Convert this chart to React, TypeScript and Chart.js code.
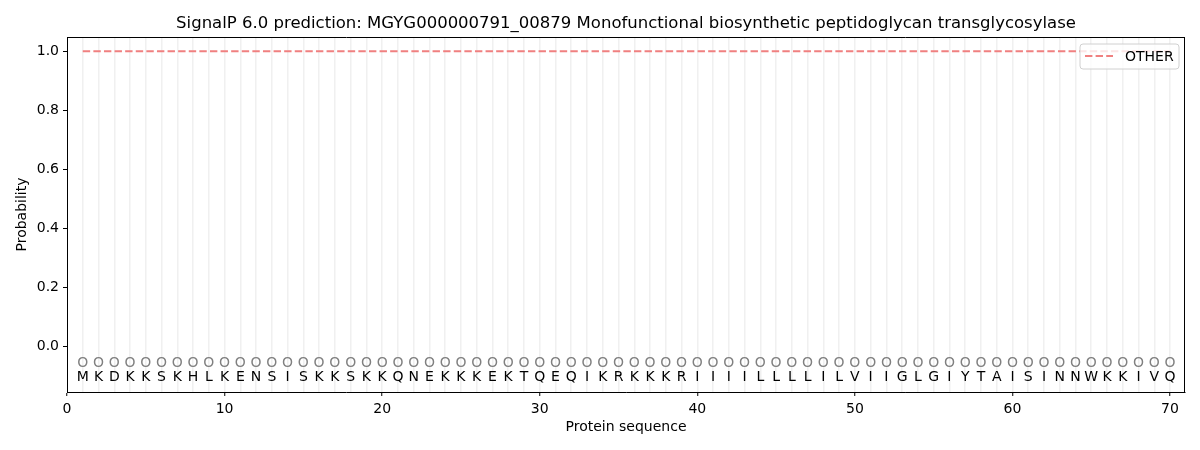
import React, { useEffect, useRef } from "react";
import { Chart, registerables } from "chart.js";

Chart.register(...registerables);

const TITLE =
  "SignalP 6.0 prediction: MGYG000000791_00879 Monofunctional biosynthetic peptidoglycan transglycosylase";

const residues: string[] = [
  "M", "K", "D", "K", "K", "S", "K", "H", "L", "K",
  "E", "N", "S", "I", "S", "K", "K", "S", "K", "K",
  "Q", "N", "E", "K", "K", "K", "E", "K", "T", "Q",
  "E", "Q", "I", "K", "R", "K", "K", "K", "R", "I",
  "I", "I", "I", "L", "L", "L", "L", "I", "L", "V",
  "I", "I", "G", "L", "G", "I", "Y", "T", "A", "I",
  "S", "I", "N", "N", "W", "K", "K", "I", "V", "Q",
];

const otherProb: number[] = [
  1.0, 1.0, 1.0, 1.0, 1.0, 1.0, 1.0, 1.0, 1.0, 1.0,
  1.0, 1.0, 1.0, 1.0, 1.0, 1.0, 1.0, 1.0, 1.0, 1.0,
  1.0, 1.0, 1.0, 1.0, 1.0, 1.0, 1.0, 1.0, 1.0, 1.0,
  1.0, 1.0, 1.0, 1.0, 1.0, 1.0, 1.0, 1.0, 1.0, 1.0,
  1.0, 1.0, 1.0, 1.0, 1.0, 1.0, 1.0, 1.0, 1.0, 1.0,
  1.0, 1.0, 1.0, 1.0, 1.0, 1.0, 1.0, 1.0, 1.0, 1.0,
  1.0, 1.0, 1.0, 1.0, 1.0, 1.0, 1.0, 1.0, 1.0, 1.0,
];

const xTickLabels: number[] = [0, 10, 20, 30, 40, 50, 60, 70];
const yTickLabels: number[] = [0, 0.2, 0.4, 0.6, 0.8, 1.0];

const X_MIN = 0;
const X_MAX = 70.95;
const Y_MIN = -0.153;
const Y_MAX = 1.048;
const MARK_Y = -0.05;
const LETTER_Y = -0.1;

const FONT = '"DejaVu Sans", sans-serif';
const LINE_COLOR = "#f08080";
const CAP_HALF = 5.1; // half cap height of 14px DejaVu Sans

const overlayPlugin = {
  id: "overlay",
  afterDatasetsDraw(chart: any) {
    const { ctx, scales } = chart;
    const x = scales.x;
    const y = scales.y;
    ctx.save();
    ctx.font = `14px ${FONT}`;
    ctx.textAlign = "center";
    ctx.textBaseline = "alphabetic";
    residues.forEach((r, i) => {
      const px = x.getPixelForValue(i + 1);
      ctx.fillStyle = "#808080";
      ctx.fillText("O", px, y.getPixelForValue(MARK_Y) + CAP_HALF);
      ctx.fillStyle = "#000000";
      ctx.fillText(r, px, y.getPixelForValue(LETTER_Y) + CAP_HALF);
    });
    ctx.restore();
  },
  afterDraw(chart: any) {
    const { ctx, chartArea: ca } = chart;
    ctx.save();
    // frame
    ctx.strokeStyle = "#000";
    ctx.lineWidth = 1;
    ctx.beginPath();
    ctx.moveTo(ca.left, ca.top + 0.5);
    ctx.lineTo(ca.right, ca.top + 0.5);
    ctx.moveTo(ca.right - 0.5, ca.top);
    ctx.lineTo(ca.right - 0.5, ca.bottom);
    ctx.stroke();

    // title
    ctx.fillStyle = "#000";
    ctx.font = `16.5px ${FONT}`;
    ctx.textAlign = "center";
    ctx.textBaseline = "alphabetic";
    ctx.fillText(TITLE, (ca.left + ca.right) / 2, ca.top - 9);

    // legend
    const bw = 99;
    const bh = 25;
    const bx = ca.right - 6 - bw;
    const by = ca.top + 7;
    const r = 3;
    ctx.beginPath();
    ctx.moveTo(bx + r, by);
    ctx.lineTo(bx + bw - r, by);
    ctx.quadraticCurveTo(bx + bw, by, bx + bw, by + r);
    ctx.lineTo(bx + bw, by + bh - r);
    ctx.quadraticCurveTo(bx + bw, by + bh, bx + bw - r, by + bh);
    ctx.lineTo(bx + r, by + bh);
    ctx.quadraticCurveTo(bx, by + bh, bx, by + bh - r);
    ctx.lineTo(bx, by + r);
    ctx.quadraticCurveTo(bx, by, bx + r, by);
    ctx.closePath();
    ctx.fillStyle = "rgba(255,255,255,0.8)";
    ctx.fill();
    ctx.strokeStyle = "#d0d0d0";
    ctx.lineWidth = 1;
    ctx.stroke();

    ctx.strokeStyle = LINE_COLOR;
    ctx.lineWidth = 2;
    ctx.setLineDash([7.4, 3.2]);
    ctx.beginPath();
    ctx.moveTo(bx + 5, by + 12);
    ctx.lineTo(bx + 33, by + 12);
    ctx.stroke();
    ctx.setLineDash([]);

    ctx.fillStyle = "#000";
    ctx.font = `14px ${FONT}`;
    ctx.textAlign = "left";
    ctx.textBaseline = "alphabetic";
    ctx.fillText("OTHER", bx + 45, by + 12 + CAP_HALF);
    ctx.restore();
  },
};

export default function App() {
  const canvasRef = useRef<HTMLCanvasElement | null>(null);

  useEffect(() => {
    if (!canvasRef.current) return;
    const chart = new Chart(canvasRef.current, {
      type: "line",
      data: {
        datasets: [
          {
            label: "OTHER",
            data: otherProb.map((v, i) => ({ x: i + 1, y: v })),
            borderColor: LINE_COLOR,
            borderWidth: 2,
            borderDash: [7.4, 3.2],
            pointRadius: 0,
            fill: false,
            tension: 0,
          },
        ],
      },
      options: {
        animation: false,
        responsive: false,
        devicePixelRatio: 1,
        layout: { padding: { left: 0, right: 15, top: 37, bottom: 0 } },
        plugins: {
          legend: { display: false },
          title: { display: false },
          tooltip: { enabled: false },
        },
        scales: {
          x: {
            type: "linear",
            min: X_MIN,
            max: X_MAX,
            afterBuildTicks: (s: any) => {
              s.ticks = [{ value: 0 }, ...residues.map((_, i) => ({ value: i + 1 }))];
            },
            afterFit: (s: any) => {
              s.height = 58;
            },
            ticks: {
              autoSkip: false,
              maxRotation: 0,
              minRotation: 0,
              padding: 4.5,
              color: "#000",
              font: { family: FONT, size: 14 },
              callback: (v: any) => (xTickLabels.includes(Number(v)) ? String(v) : ""),
            },
            grid: {
              drawOnChartArea: true,
              color: (c: any) => (c.tick && c.tick.value > 0 ? "#f0f0f0" : "rgba(0,0,0,0)"),
              lineWidth: 1.5,
              tickLength: 4,
              tickColor: (c: any) =>
                c.tick && xTickLabels.includes(c.tick.value) ? "#000" : "rgba(0,0,0,0)",
              tickWidth: 1,
            },
            border: { display: true, color: "#000", width: 1 },
            title: {
              display: true,
              text: "Protein sequence",
              color: "#000",
              font: { family: FONT, size: 14 },
              padding: { top: 0, bottom: 13.8 },
            },
          },
          y: {
            type: "linear",
            min: Y_MIN,
            max: Y_MAX,
            afterBuildTicks: (s: any) => {
              s.ticks = yTickLabels.map((v) => ({ value: v }));
            },
            afterFit: (s: any) => {
              s.width = 67;
            },
            ticks: {
              padding: 4,
              color: "#000",
              font: { family: FONT, size: 14 },
              callback: (v: any) => Number(v).toFixed(1),
            },
            grid: {
              drawOnChartArea: false,
              tickLength: 4,
              tickColor: "#000",
              tickWidth: 1,
            },
            border: { display: true, color: "#000", width: 1 },
            title: {
              display: true,
              text: "Probability",
              color: "#000",
              font: { family: FONT, size: 14 },
              padding: { top: 13.6, bottom: 0 },
            },
          },
        },
      },
      plugins: [overlayPlugin],
    } as any);
    return () => chart.destroy();
  }, []);

  return (
    <div style={{ position: "absolute", left: 0, top: 0, width: 1200, height: 450, background: "#fff" }}>
      <canvas ref={canvasRef} width={1200} height={450} style={{ width: 1200, height: 450 }} />
    </div>
  );
}
